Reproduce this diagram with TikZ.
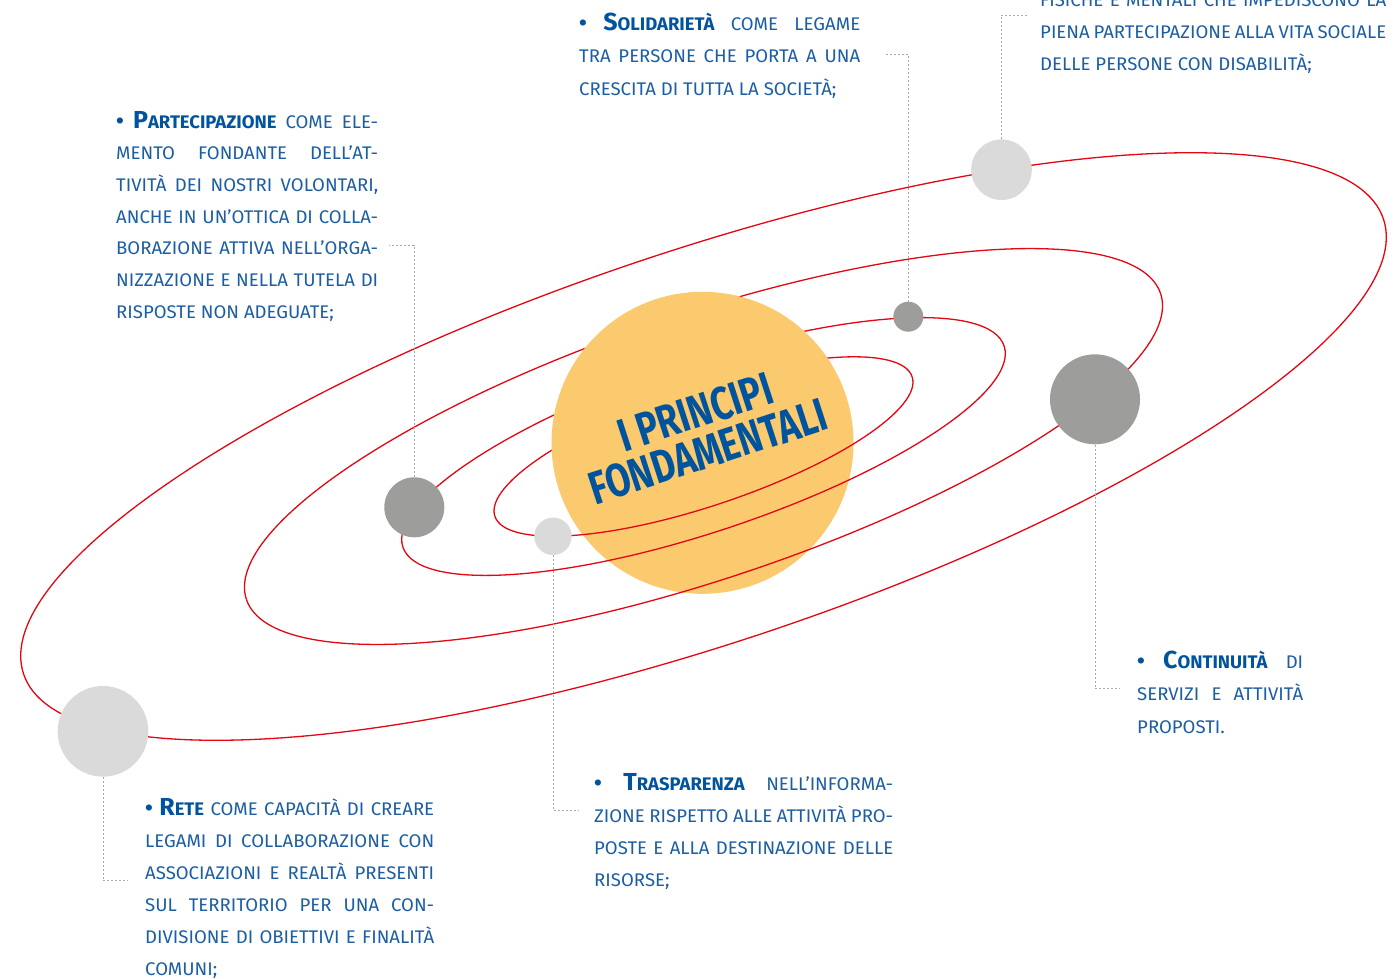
\documentclass[tikz,border=0pt]{standalone}
\usepackage{fontspec}
\setmainfont{Fira Sans}[FakeStretch=1.015]
\newfontfamily\sunfont[FakeStretch=0.77]{Fira Sans}
\definecolor{orbitred}{RGB}{227,6,19}
\definecolor{sunfill}{RGB}{252,202,110}
\definecolor{lightplanet}{RGB}{218,218,218}
\definecolor{darkplanet}{RGB}{157,157,156}
\definecolor{leadergray}{RGB}{168,168,168}
\definecolor{headblue}{RGB}{0,84,158}
\definecolor{bodyblue}{RGB}{28,94,164}
\newcommand\hd[2]{{\bfseries\color{headblue}\fontsize{24.6}{25}\selectfont #1\fontsize{18.2}{20}\selectfont #2}}
\newcommand\bul{{\bfseries\color{headblue}\fontsize{22}{20}\selectfont •}}
\newcommand\tblock[6]{% name, x, y of first baseline, width, pitch, lines
  \foreach \t [count=\i] in {#6} {\xdef\nlines{\i}}%
  \foreach \t [count=\i] in {#6} {%
    \ifnum\i<\nlines\relax
      \node[bodytext] (#1-\i) at (#2,{#3+#5*(\i-1)}) {\makebox[#4pt][s]{\t}};
    \else
      \node[bodytext] (#1-\i) at (#2,{#3+#5*(\i-1)}) {\t};
    \fi
  }%
}
\begin{document}
\begin{tikzpicture}[x=1pt,y=-1pt,
  orbit/.style={draw=orbitred,line width=1.3pt},
  planet/.style={circle,inner sep=0pt,draw=none},
  leader/.style={draw=leadergray,line width=1pt,dash pattern=on 2pt off 2pt},
  bodytext/.style={inner sep=0pt,anchor=base west,text=bodyblue,font=\fontsize{18.3}{20}\selectfont},
  suntext/.style={inner sep=0pt,anchor=south,text depth=0pt,align=center,rotate=18,text=headblue,font=\sunfont\bfseries\fontsize{46.5}{41.5}\selectfont}]
\useasboundingbox (0,0) rectangle (1400,978);
\clip (0,0) rectangle (1400,978);
\fill[white] (0,0) rectangle (1400,978);
% back halves of orbits
\begin{scope}[shift={(703.5,446.5)},rotate=18.5]
  \draw[orbit] (717pt,0pt) arc[start angle=0,end angle=180,x radius=717pt,y radius=196pt];
  \draw[orbit] (482pt,0pt) arc[start angle=0,end angle=180,x radius=482pt,y radius=132.5pt];
  \draw[orbit] (317pt,0pt) arc[start angle=0,end angle=180,x radius=317pt,y radius=85pt];
  \draw[orbit] (220pt,0pt) arc[start angle=0,end angle=180,x radius=220pt,y radius=59.4pt];
\end{scope}
% sun
\node[planet,fill=sunfill,minimum size=302pt] (sun) at (702.5,442.8) {};
% front halves of orbits
\begin{scope}[shift={(703.5,446.5)},rotate=18.5]
  \draw[orbit] (-717pt,0pt) arc[start angle=180,end angle=360,x radius=717pt,y radius=196pt];
  \draw[orbit] (-482pt,0pt) arc[start angle=180,end angle=360,x radius=482pt,y radius=132.5pt];
  \draw[orbit] (-317pt,0pt) arc[start angle=180,end angle=360,x radius=317pt,y radius=85pt];
  \draw[orbit] (-220pt,0pt) arc[start angle=180,end angle=360,x radius=220pt,y radius=59.4pt];
\end{scope}
\node[suntext] (title) at (713,467) {I PRINCIPI\\FONDAMENTALI};
% planets
\node[planet,fill=lightplanet,minimum size=60.6pt] (p1) at (1001.5,169.7) {};
\node[planet,fill=darkplanet,minimum size=30pt] (p2) at (908.3,316.7) {};
\node[planet,fill=darkplanet,minimum size=90pt] (p3) at (1095,399.3) {};
\node[planet,fill=darkplanet,minimum size=60pt] (p4) at (414.3,507.3) {};
\node[planet,fill=lightplanet,minimum size=37.4pt] (p5) at (553,536.3) {};
\node[planet,fill=lightplanet,minimum size=90.6pt] (p6) at (103,731.3) {};
% leader ends
\coordinate (e1) at (1027,15);
\coordinate (e2) at (884,54);
\coordinate (e3) at (389,245);
\coordinate (e4) at (1120,688.3);
\coordinate (e5) at (578,810.5);
\coordinate (e6) at (128,880.5);
\draw[leader] (p1.north) |- (e1);
\draw[leader] (p2.north) |- (e2);
\draw[leader] (p4.north) |- (e3);
\draw[leader] (p3.south) |- (e4);
\draw[leader] (p5.south) |- (e5);
\draw[leader] (p6.south) |- (e6);
% text blocks
\tblock{tr}{1040}{6}{346}{32}{{FISICHE E MENTALI CHE IMPEDISCONO LA},{PIENA PARTECIPAZIONE ALLA VITA SOCIALE},{DELLE PERSONE CON DISABILITÀ;}}
\tblock{sol}{579}{30.5}{281}{32.25}{{\bul\ \hd{S}{OLIDARIETÀ} COME LEGAME},{TRA PERSONE CHE PORTA A UNA},{CRESCITA DI TUTTA LA SOCIETÀ;}}
\tblock{par}{116}{128}{262}{31.7}{{\bul\ \hd{P}{ARTECIPAZIONE} COME ELE-},{MENTO FONDANTE DELL’AT-},{TIVITÀ DEI NOSTRI VOLONTARI,},{ANCHE IN UN’OTTICA DI COLLA-},{BORAZIONE ATTIVA NELL’ORGA-},{NIZZAZIONE E NELLA TUTELA DI},{RISPOSTE NON ADEGUATE;}}
\tblock{con}{1137}{668.5}{166}{32.4}{{\bul\ \hd{C}{ONTINUITÀ} DI},{SERVIZI E ATTIVITÀ},{PROPOSTI.}}
\tblock{tra}{594}{790}{299}{32.2}{{\bul\ \hd{T}{RASPARENZA} NELL’INFORMA-},{ZIONE RISPETTO ALLE ATTIVITÀ PRO-},{POSTE E ALLA DESTINAZIONE DELLE},{RISORSE;}}
\tblock{ret}{145}{815}{289}{32}{{\bul\ \hd{R}{ETE} COME CAPACITÀ DI CREARE},{LEGAMI DI COLLABORAZIONE CON},{ASSOCIAZIONI E REALTÀ PRESENTI},{SUL TERRITORIO PER UNA CON-},{DIVISIONE DI OBIETTIVI E FINALITÀ},{COMUNI;}}
\end{tikzpicture}
\end{document}
